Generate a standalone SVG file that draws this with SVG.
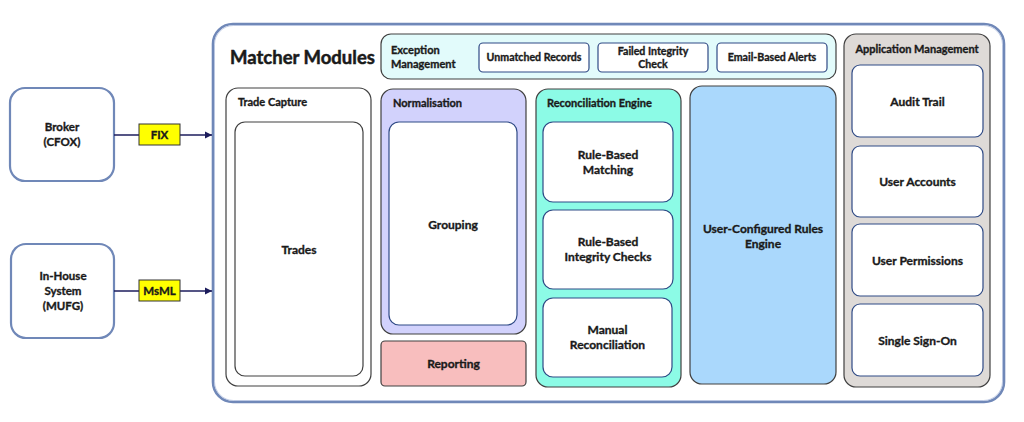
<svg xmlns="http://www.w3.org/2000/svg" width="1024" height="422" viewBox="0 0 1024 422">
<defs>
<style>
text{font-family:Lato,"Open Sans","Liberation Sans",sans-serif;font-weight:700;fill:#1a1a1a;stroke:#1a1a1a;stroke-width:0.35px;}
.t{font-size:11px;}
.s{font-size:10.6px;}
.m{font-size:12px;}
.b{font-size:11.5px;}
.c{text-anchor:middle;}
.grp{stroke:#404040;stroke-width:1.2;}
.item{fill:#ffffff;stroke:#2f4a85;stroke-width:1.2;}
.src{fill:#ffffff;stroke:#7088b8;stroke-width:2.2;}
.lbl{fill:#ffff00;stroke:#333333;stroke-width:1;}
.conn{stroke:#1c1c5c;stroke-width:1.6;fill:none;}
</style>
<marker id="ah" viewBox="0 0 10 10" refX="10" refY="5" markerWidth="4.5" markerHeight="4.5" orient="auto" markerUnits="strokeWidth">
<path d="M0,0 L10,5 L0,10 z" fill="#1c1c5c"/>
</marker>
</defs>
<rect width="1024" height="422" fill="#ffffff"/>

<g id="matcher">
<rect x="213" y="24" width="791" height="378" rx="20" fill="#ffffff" stroke="#7088b8" stroke-width="2.6"/>
<rect x="214.5" y="25.5" width="788" height="375" rx="19" fill="none" stroke="#b4c2df" stroke-width="0.8"/>
<text x="230" y="64" style="font-size:18.5px;stroke-width:0.5px">Matcher Modules</text>
</g>

<g id="broker">
<rect class="src" x="10" y="88" width="104" height="93" rx="15"/>
<text class="b c" x="62" y="131">Broker</text>
<text class="b c" x="62" y="146">(CFOX)</text>
</g>

<g id="inhouse">
<rect class="src" x="11" y="244" width="103" height="94" rx="15"/>
<text class="b c" x="63" y="280">In-House</text>
<text class="b c" x="63" y="295">System</text>
<text class="b c" x="63" y="310">(MUFG)</text>
</g>

<g id="connectors">
<line class="conn" x1="114" y1="135" x2="212" y2="135" marker-end="url(#ah)"/>
<line class="conn" x1="114" y1="291" x2="212" y2="291" marker-end="url(#ah)"/>
</g>

<g id="fix">
<rect class="lbl" x="139" y="124" width="41" height="21"/>
<text class="b c" x="159.5" y="139">FIX</text>
</g>
<g id="msml">
<rect class="lbl" x="139" y="280" width="41" height="21"/>
<text class="b c" x="159.5" y="295">MsML</text>
</g>

<g id="trade-capture">
<rect class="grp" x="226" y="88" width="145" height="298" rx="12" fill="#ffffff"/>
<text class="t" x="238" y="106">Trade Capture</text>
</g>
<g id="trades">
<rect x="235" y="122" width="128" height="254" rx="10" fill="#ffffff" stroke="#404040" stroke-width="1.2"/>
<text class="m c" x="299" y="254">Trades</text>
</g>

<g id="exception-management">
<rect class="grp" x="381" y="34" width="455" height="45" rx="10" fill="#e2fbfb"/>
<text class="t" x="391" y="54">Exception</text>
<text class="t" x="391" y="68">Management</text>
</g>
<g id="unmatched-records">
<rect class="item" x="479" y="43" width="110" height="29" rx="4"/>
<text class="s c" x="534" y="61">Unmatched Records</text>
</g>
<g id="failed-integrity-check">
<rect class="item" x="598" y="43" width="110" height="29" rx="4"/>
<text class="s c" x="653" y="55">Failed Integrity</text>
<text class="s c" x="653" y="68">Check</text>
</g>
<g id="email-alerts">
<rect class="item" x="717" y="43" width="110" height="29" rx="4"/>
<text class="s c" x="772" y="61">Email-Based Alerts</text>
</g>

<g id="normalisation">
<rect class="grp" x="381" y="89" width="145" height="245" rx="12" fill="#d2d2fc"/>
<text class="t" x="393" y="107">Normalisation</text>
</g>
<g id="grouping">
<rect class="item" x="389" y="122" width="128" height="203" rx="10"/>
<text class="m c" x="453" y="229">Grouping</text>
</g>

<g id="reporting">
<rect class="grp" x="381" y="341" width="145" height="45" rx="4" fill="#f8bebe"/>
<text class="m c" x="453.5" y="368">Reporting</text>
</g>

<g id="reconciliation-engine">
<rect class="grp" x="536" y="89" width="145" height="298" rx="12" fill="#8cfbe6"/>
<text class="t" x="547" y="107">Reconciliation Engine</text>
</g>
<g id="rule-matching">
<rect class="item" x="543" y="122" width="130" height="80" rx="10"/>
<text class="m c" x="608" y="159">Rule-Based</text>
<text class="m c" x="608" y="174">Matching</text>
</g>
<g id="rule-integrity">
<rect class="item" x="543" y="210" width="130" height="79" rx="10"/>
<text class="m c" x="608" y="246">Rule-Based</text>
<text class="m c" x="608" y="261">Integrity Checks</text>
</g>
<g id="manual-reconciliation">
<rect class="item" x="543" y="298" width="129" height="79" rx="10"/>
<text class="m c" x="607.5" y="334">Manual</text>
<text class="m c" x="607.5" y="349">Reconciliation</text>
</g>

<g id="user-rules-engine">
<rect class="grp" x="690" y="86" width="146" height="298" rx="12" fill="#aad8fc"/>
<text class="m c" x="763" y="233">User-Configured Rules</text>
<text class="m c" x="763" y="248">Engine</text>
</g>

<g id="application-management">
<rect class="grp" x="844" y="34" width="146" height="353" rx="12" fill="#dedad7"/>
<text class="t c" x="917" y="53">Application Management</text>
</g>
<g id="audit-trail">
<rect class="item" x="852" y="65" width="131" height="72" rx="8"/>
<text class="m c" x="917.5" y="106">Audit Trail</text>
</g>
<g id="user-accounts">
<rect class="item" x="852" y="146" width="131" height="71" rx="8"/>
<text class="m c" x="917.5" y="186">User Accounts</text>
</g>
<g id="user-permissions">
<rect class="item" x="852" y="224" width="131" height="72" rx="8"/>
<text class="m c" x="917.5" y="265">User Permissions</text>
</g>
<g id="single-sign-on">
<rect class="item" x="852" y="304" width="131" height="72" rx="8"/>
<text class="m c" x="917.5" y="345">Single Sign-On</text>
</g>
</svg>
